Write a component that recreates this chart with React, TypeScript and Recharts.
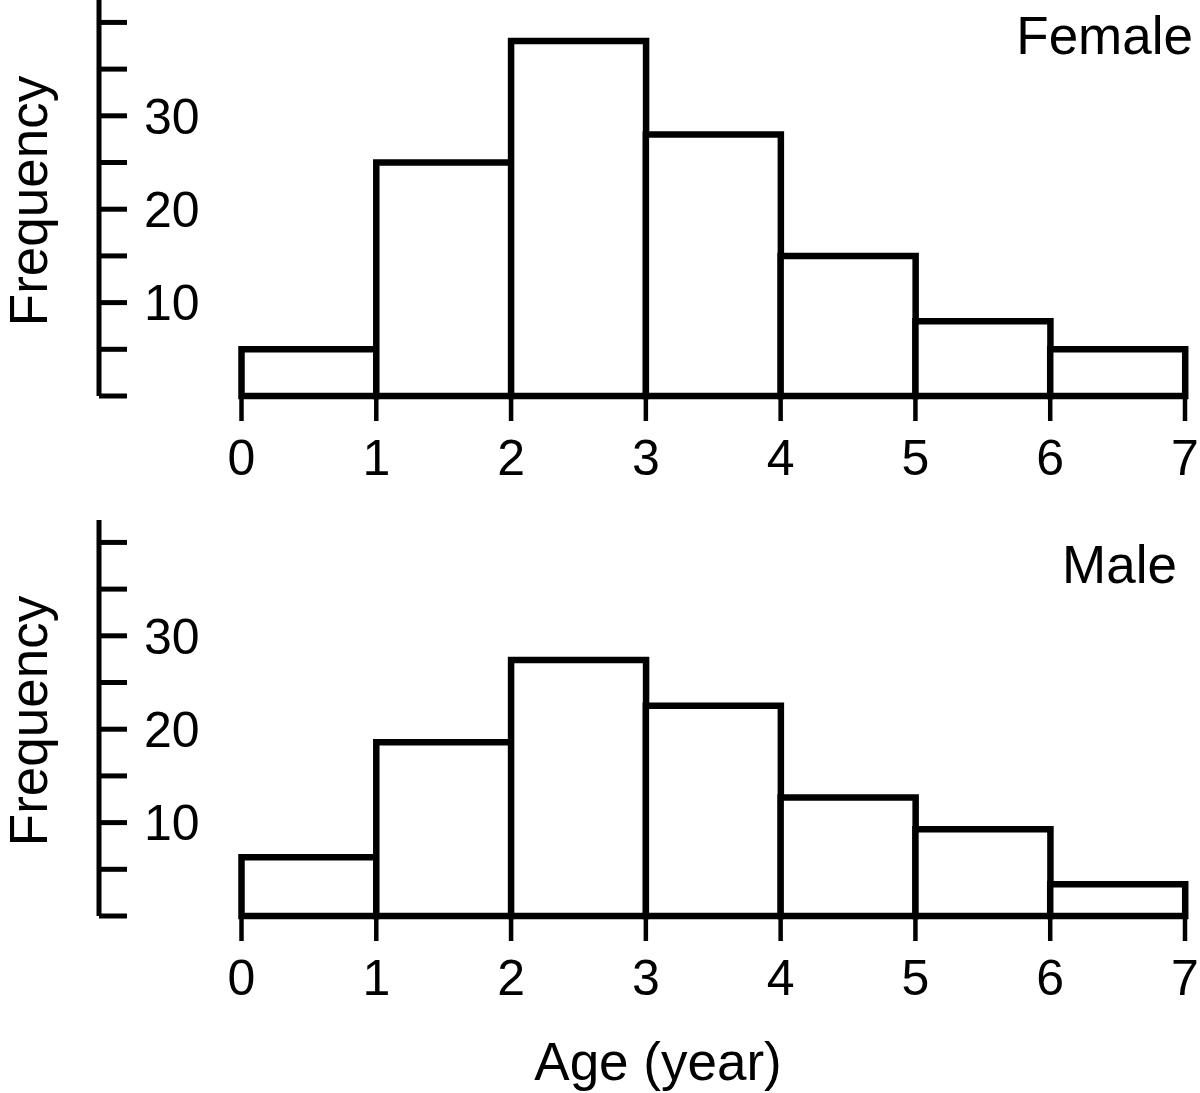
import { Bar, BarChart, XAxis, YAxis } from "recharts";

// histogram bins: [start, start + 1) years
const binStarts = [0, 1, 2, 3, 4, 5, 6];
const femaleCounts = [5, 25, 38, 28, 15, 8, 5];
const maleCounts = [6.3, 18.6, 27.4, 22.5, 12.7, 9.3, 3.4];

const ageTicks = [0, 1, 2, 3, 4, 5, 6, 7];
const freqTicks = [0, 5, 10, 15, 20, 25, 30, 35, 40];
const labelledFreq = [10, 20, 30];

const FONT = '"Liberation Sans", Arial, Helvetica, sans-serif';
const INK = "#000";
const X_AXIS_H = 30;

const toBins = (counts: number[]) =>
  binStarts.map((s, i) => ({ mid: s + 0.5, count: counts[i] }));

function FreqLabel({ viewBox }: any) {
  const x = 47;
  const y = viewBox.y + viewBox.height / 2 + 3;
  return (
    <text
      x={x}
      y={y}
      transform={`rotate(-90 ${x} ${y})`}
      textAnchor="middle"
      fontFamily={FONT}
      fontSize={53}
      fill={INK}
    >
      Frequency
    </text>
  );
}

type PanelProps = {
  counts: number[];
  title: string;
  titleX: number;
  titleY: number;
  height: number;
  xTitle?: string;
};

function Panel({ counts, title, titleX, titleY, height, xTitle }: PanelProps) {
  const data = toBins(counts);
  return (
    <BarChart
      width={1200}
      height={height}
      data={data}
      margin={{ top: 0, right: 15, bottom: height - 396 - X_AXIS_H, left: 99 }}
      barCategoryGap={0}
      barGap={0}
    >
      <XAxis
        type="number"
        dataKey="mid"
        domain={[0, 7]}
        ticks={ageTicks}
        interval={0}
        height={X_AXIS_H}
        padding={{ left: 142.5, right: 0 }}
        axisLine={false}
        tickLine={{ stroke: INK, strokeWidth: 4.5 }}
        tickSize={25}
        tickMargin={18}
        tick={{ fill: INK, fontSize: 50, fontFamily: FONT }}
      />
      <YAxis
        type="number"
        domain={[0, 42.4]}
        ticks={freqTicks}
        interval={0}
        mirror
        width={60}
        axisLine={{ stroke: INK, strokeWidth: 5 }}
        tickLine={{ stroke: INK, strokeWidth: 5 }}
        tickSize={28}
        tickMargin={17}
        tickFormatter={(v: number) => (labelledFreq.includes(v) ? String(v) : "")}
        tick={{ fill: INK, fontSize: 50, fontFamily: FONT }}
        label={{ content: FreqLabel }}
      />
      <Bar
        dataKey="count"
        fill="#fff"
        stroke={INK}
        strokeWidth={6.5}
        isAnimationActive={false}
      />
      <text
        x={titleX}
        y={titleY}
        textAnchor="end"
        fontFamily={FONT}
        fontSize={53}
        fill={INK}
      >
        {title}
      </text>
      {xTitle && (
        <text
          x={658}
          y={560}
          textAnchor="middle"
          fontFamily={FONT}
          fontSize={53}
          fill={INK}
        >
          {xTitle}
        </text>
      )}
    </BarChart>
  );
}

export default function App() {
  return (
    <div
      style={{
        position: "absolute",
        left: 0,
        top: 0,
        width: 1200,
        height: 1093,
        background: "#fff",
      }}
    >
      <Panel
        counts={femaleCounts}
        title="Female"
        titleX={1193}
        titleY={54}
        height={520}
      />
      <Panel
        counts={maleCounts}
        title="Male"
        titleX={1177}
        titleY={63}
        height={573}
        xTitle="Age (year)"
      />
    </div>
  );
}
